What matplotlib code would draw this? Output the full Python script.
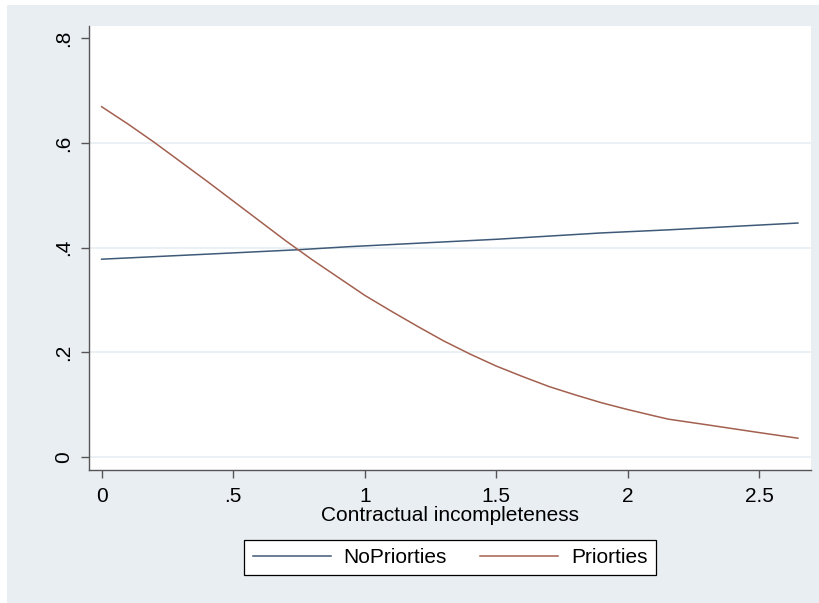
import matplotlib
matplotlib.use("Agg")
import matplotlib.pyplot as plt
from matplotlib.patches import Rectangle

plt.rcParams['font.family'] = ['Liberation Sans', 'DejaVu Sans']

# data
x_nopri = [0.0, 0.5, 0.745, 0.944, 1.5, 1.895, 2.154, 2.646]
y_nopri = [0.378, 0.390, 0.396, 0.402, 0.416, 0.428, 0.434, 0.447]

x_pri = [0.0, 0.1, 0.2, 0.3, 0.4, 0.5, 0.6, 0.7, 0.8, 0.9, 1.0, 1.1, 1.2, 1.3,
         1.4, 1.5, 1.6, 1.7, 1.8, 1.9, 2.0, 2.1, 2.154, 2.3, 2.4, 2.5, 2.646]
y_pri = [0.669, 0.636, 0.601, 0.564, 0.527, 0.489, 0.451, 0.413, 0.377, 0.343,
         0.309, 0.279, 0.250, 0.222, 0.197, 0.174, 0.154, 0.135, 0.119, 0.104,
         0.091, 0.079, 0.0727, 0.062, 0.0545, 0.047, 0.0364]

xticks = [0, 0.5, 1, 1.5, 2, 2.5]
xticklabels = ['0', '.5', '1', '1.5', '2', '2.5']
yticks = [0, 0.2, 0.4, 0.6, 0.8]
yticklabels = ['0', '.2', '.4', '.6', '.8']
series_names = ['NoPriorties', 'Priorties']
xlabel = 'Contractual incompleteness'

BG = '#E9EEF3'
GRID = '#E6EEF2'
C1 = '#3E5A78'
C2 = '#A3604F'

W, H = 819, 603
fig = plt.figure(figsize=(W / 100, H / 100), dpi=100, facecolor='white')
fig.patches.append(Rectangle((7 / W, 0), 1 - 7 / W, 1 - 5 / H, transform=fig.transFigure,
                             facecolor=BG, edgecolor='none', zorder=-10))

ax = fig.add_axes([89 / W, 1 - 470 / H, (811.3 - 89) / W, (470 - 25.7) / H])
ax.set_facecolor('white')
ax.set_xlim(-0.048, 2.697)
ax.set_ylim(-0.0243, 0.8236)

for g in yticks[:-1]:
    ax.axhline(g, color=GRID, lw=1.2, zorder=0)

ax.plot(x_nopri, y_nopri, color=C1, lw=1.1, label=series_names[0])
ax.plot(x_pri, y_pri, color=C2, lw=1.1, label=series_names[1])

for s in ['top', 'right']:
    ax.spines[s].set_visible(False)
for s in ['left', 'bottom']:
    ax.spines[s].set_color('#555555')
    ax.spines[s].set_linewidth(1.0)

ax.set_xticks(xticks)
ax.set_xticklabels(xticklabels)
ax.set_yticks(yticks)
ax.set_yticklabels(yticklabels, rotation=90, va='center')
ax.tick_params(axis='both', direction='out', length=5.5, width=1.0, color='#555555',
               labelsize=15, labelcolor='black')
ax.tick_params(axis='x', pad=7)
ax.tick_params(axis='y', pad=6)

ax.set_xlabel(xlabel, fontsize=15, labelpad=0)

leg = fig.legend(loc='center', bbox_to_anchor=(450 / W, 1 - 557.5 / H), ncol=2,
                 fontsize=15, frameon=True, fancybox=False, edgecolor='black',
                 facecolor='white', framealpha=1.0,
                 handlelength=3.75, handletextpad=0.61, columnspacing=1.6,
                 borderpad=0.4, borderaxespad=0)
leg.get_frame().set_linewidth(0.9)
for l in leg.get_lines():
    l.set_linewidth(1.1)

fig.savefig('out.png', dpi=100, facecolor='white')
